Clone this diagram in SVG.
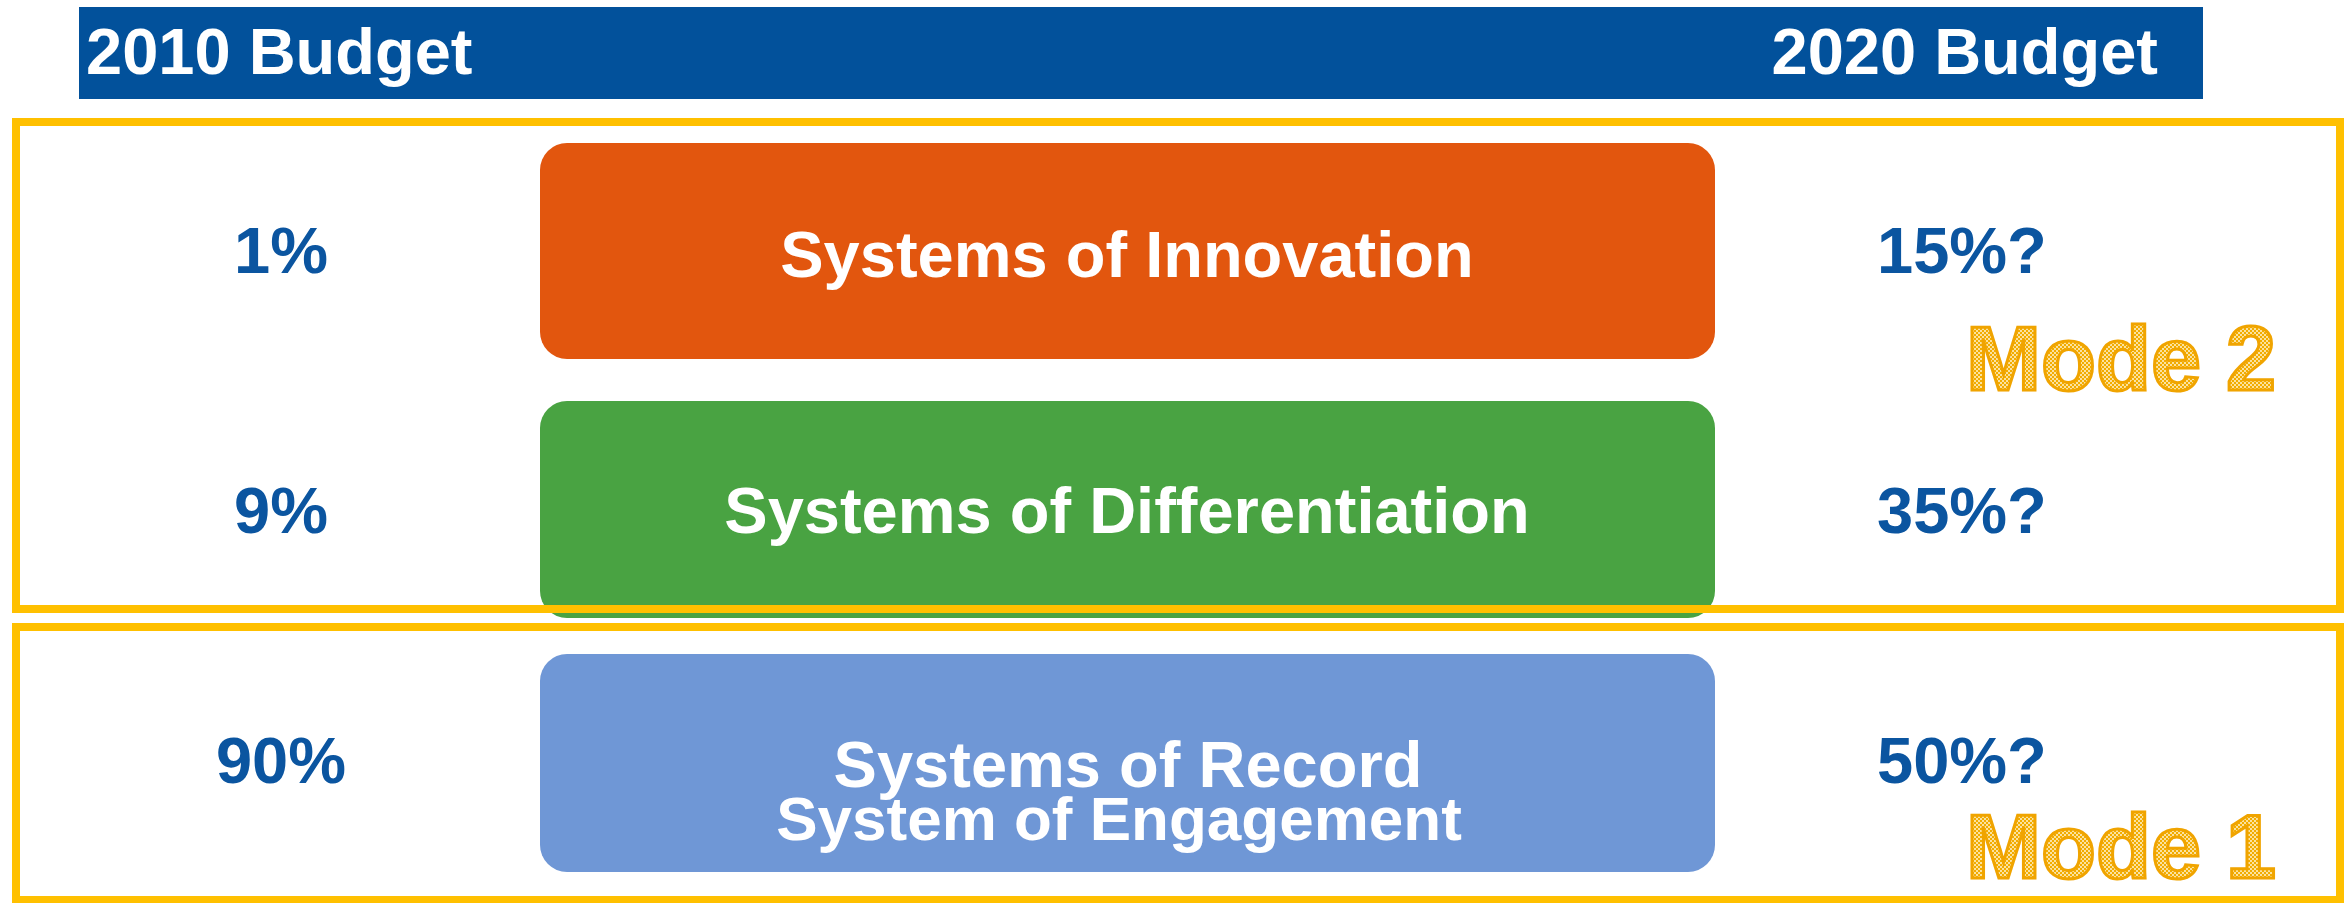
<svg xmlns="http://www.w3.org/2000/svg" width="2346" height="903" viewBox="0 0 2346 903">
<style>
.hdr{font-family:"Liberation Sans",Arial,sans-serif;font-weight:bold;font-size:65px;fill:#ffffff}
.pct{font-family:"Liberation Sans",Arial,sans-serif;font-weight:bold;font-size:65px;fill:#0b55a0}
.lbl{font-family:"Liberation Sans",Arial,sans-serif;font-weight:bold;font-size:65px;fill:#ffffff;text-anchor:middle}
.mode{font-family:"Liberation Sans",Arial,sans-serif;font-weight:bold;font-size:90px;fill:url(#chk);stroke:#f0a400;stroke-width:3}
.frame{fill:none;stroke:#ffc000;stroke-width:8}
</style>
<defs>
<pattern id="chk" width="4" height="4" patternUnits="userSpaceOnUse">
<rect width="4" height="4" fill="#fbe2a0"/>
<rect width="2" height="2" fill="#f2ac00"/>
<rect x="2" y="2" width="2" height="2" fill="#f2ac00"/>
</pattern>
</defs>
<rect width="2346" height="903" fill="#ffffff"/>
<g id="header">
<rect x="79" y="7" width="2124" height="92" fill="#02519b"/>
<text class="hdr" x="86" y="74">2010 Budget</text>
<text class="hdr" x="2158" y="74" text-anchor="end">2020 Budget</text>
</g>
<g id="innovation">
<rect x="540" y="143" width="1175" height="216" rx="27" fill="#e2560e"/>
<text class="lbl" x="1127" y="277">Systems of Innovation</text>
</g>
<g id="differentiation">
<rect x="540" y="401" width="1175" height="217" rx="27" fill="#49a342"/>
<text class="lbl" x="1127" y="533">Systems of Differentiation</text>
</g>
<g id="record">
<rect x="540" y="654" width="1175" height="218" rx="27" fill="#6f97d6"/>
<text class="lbl" x="1128" y="787">Systems of Record</text>
<text class="lbl" x="1119" y="840" style="font-size:62px">System of Engagement</text>
</g>
<g id="pct2010">
<text class="pct" x="281" y="273" text-anchor="middle">1%</text>
<text class="pct" x="281" y="533" text-anchor="middle">9%</text>
<text class="pct" x="281" y="783" text-anchor="middle">90%</text>
</g>
<g id="pct2020">
<text class="pct" x="1877" y="273">15%?</text>
<text class="pct" x="1877" y="533">35%?</text>
<text class="pct" x="1877" y="783">50%?</text>
</g>
<g id="mode2">
<rect class="frame" x="16" y="122" width="2324" height="487"/>
<text class="mode" x="1966" y="390">Mode 2</text>
</g>
<g id="mode1">
<rect class="frame" x="16" y="627" width="2324" height="273"/>
<text class="mode" x="1966" y="878">Mode 1</text>
</g>
<g id="connectors"></g>
</svg>
